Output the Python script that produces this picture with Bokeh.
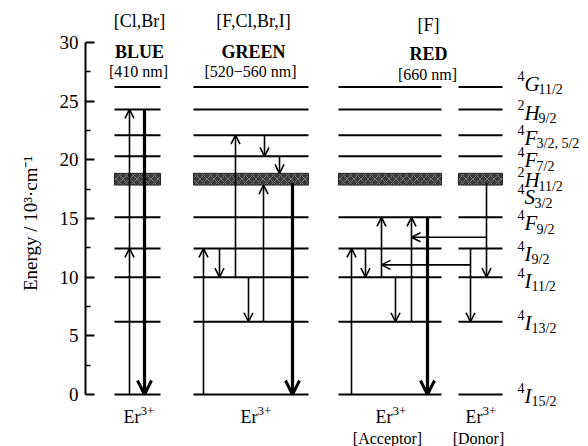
import numpy as np
from bokeh.plotting import figure
from bokeh.models import ColumnDataSource, Arrow, OpenHead, FixedTicker, Range1d
from bokeh.core.properties import value
from bokeh.embed import file_html
from bokeh.resources import INLINE

# ---------------- data ----------------
# energy levels of Er3+ (10^3 cm^-1)
level_sup = ["4", "4", "4", "4", "4", "4", "2", "4", "4", "2", "4"]
level_main = ["I", "I", "I", "I", "F", "S", "H", "F", "F", "H", "G"]
level_sub = ["15/2", "13/2", "11/2", "9/2", "9/2", "3/2", "11/2", "7/2", "3/2, 5/2", "9/2", "11/2"]
level_energy = [0.0, 6.2, 10.0, 12.45, 15.1, 17.85, 18.85, 20.3, 22.1, 24.3, 26.2]
band_low, band_high = 17.85, 18.85   # 4S3/2 + 2H11/2 (shaded)

# columns of the diagram
col_header1 = ["[Cl,Br]", "[F,Cl,Br,I]", "[F]", ""]
col_header2 = ["BLUE", "GREEN", "RED", ""]
col_header3 = ["[410 nm]", "[520\u2212560 nm]", "[660 nm]", ""]
col_foot = ["", "", "[Acceptor]", "[Donor]"]

# vertical transitions: column index, start energy, end energy, thick (emission)
tr_col = [0, 0, 0,
          1, 1, 1, 1, 1, 1, 1, 1,
          2, 2, 2, 2, 2, 2,
          3, 3]
tr_from = [0.0, 12.45, 24.3,
           0.0, 12.45, 10.0, 22.1, 20.3, 10.0, 6.2, 18.0,
           0.0, 12.45, 10.0, 10.0, 6.2, 15.1,
           18.0, 12.45]
tr_to = [12.45, 24.3, 0.0,
         12.45, 10.0, 22.1, 20.3, 18.85, 6.2, 17.85, 0.0,
         12.45, 10.0, 15.1, 6.2, 15.1, 0.0,
         10.0, 6.2]
tr_thick = [0, 0, 1,
            0, 0, 0, 0, 0, 0, 0, 1,
            0, 0, 0, 0, 0, 1,
            0, 0]
# energy transfer donor -> acceptor (horizontal arrows): energy
et_energy = [13.4, 11.05]

y_ticks = [0, 5, 10, 15, 20, 25, 30]
y_minor = [2.5, 7.5, 12.5, 17.5, 22.5, 27.5]

# ---------------- layout (pixels ~ data x) ----------------
col_x0 = [114, 193, 338, 458]
col_x1 = [160, 308, 441, 502]
col_hx = [139, 253, 428, 0]
col_ex = [138, 255, 390, 480]
col_fx = [0, 0, 387, 478]
tr_x = [129, 129, 144,
        203, 219, 235, 264, 279, 248, 263, 292,
        351, 365, 381, 395, 411, 427,
        486, 470]
et_x0 = [486, 470]
et_x1 = [411, 381]
lab_y = [-0.1, 6.1, 9.7, 12.0, 14.6, 16.8, 18.25, 19.95, 21.9, 24.0, 26.5]

PX = 11.733  # px per unit
serif = value("Liberation Serif")

p = figure(width=588, height=446, output_backend="svg", toolbar_location=None,
           x_range=Range1d(85, 588), y_range=Range1d(-52 / PX, 394 / PX),
           x_axis_location=None, min_border_left=85, min_border_right=0,
           min_border_top=0, min_border_bottom=0)
p.outline_line_color = None
p.grid.visible = False
p.background_fill_color = "white"
p.border_fill_color = "white"

ax = p.yaxis[0]
ax.bounds = (0, 30)
ax.ticker = FixedTicker(ticks=y_ticks, minor_ticks=y_minor)
ax.major_tick_in = 9
ax.major_tick_out = 0
ax.minor_tick_in = 5
ax.minor_tick_out = 0
ax.axis_line_width = 2
ax.axis_line_color = "black"
ax.major_tick_line_width = 2
ax.major_tick_line_color = "black"
ax.minor_tick_line_width = 1.5
ax.minor_tick_line_color = "black"
ax.major_label_text_font = "Liberation Serif"
ax.major_label_text_font_size = "19px"
ax.major_label_text_color = "black"
ax.major_label_standoff = 7
ax.axis_label = "Energy / 10\u00b3\u00b7cm\u207b\u00b9"
ax.axis_label_text_font = "Liberation Serif"
ax.axis_label_text_font_style = "normal"
ax.axis_label_text_font_size = "19px"
ax.axis_label_text_color = "black"
ax.axis_label_standoff = 16

# level lines
sx0, sx1, sy = [], [], []
for c in range(4):
    for e in level_energy:
        if band_low <= e <= band_high:
            continue
        sx0.append(col_x0[c]); sx1.append(col_x1[c]); sy.append(e)
p.segment(x0=sx0, x1=sx1, y0=sy, y1=sy, line_color="black", line_width=2)

# shaded band
p.quad(left=col_x0, right=col_x1, bottom=[band_low] * 4, top=[band_high] * 4,
       fill_color="#3c3c3c", line_color="#222222", line_width=1,
       hatch_pattern="x", hatch_color="#9a9a9a", hatch_scale=7, hatch_weight=0.6)

# vertical arrows
thin = dict(x0=[], y0=[], x1=[], y1=[])
thick = dict(x0=[], y0=[], x1=[], y1=[])
for x, a, b, t in zip(tr_x, tr_from, tr_to, tr_thick):
    d = thick if t else thin
    d["x0"].append(x); d["x1"].append(x); d["y0"].append(a); d["y1"].append(b)
for x0, x1, e in zip(et_x0, et_x1, et_energy):
    thin["x0"].append(x0); thin["x1"].append(x1); thin["y0"].append(e); thin["y1"].append(e)

p.add_layout(Arrow(end=OpenHead(size=9, line_width=1.6, line_color="black"),
                   source=ColumnDataSource(thin), x_start="x0", y_start="y0",
                   x_end="x1", y_end="y1", line_width=1.6, line_color="black"))
p.add_layout(Arrow(end=OpenHead(size=14, line_width=3, line_color="black"),
                   source=ColumnDataSource(thick), x_start="x0", y_start="y0",
                   x_end="x1", y_end="y1", line_width=3.2, line_color="black"))

# headers
h1y, h2y, h3y = 31.8, 29.2, 27.5
hx = col_hx[:3]
p.text(x=hx, y=[h1y, h1y, h1y - 0.3], text=col_header1[:3], text_font=serif,
       text_font_size="18px", text_align="center", text_baseline="middle")
p.text(x=hx, y=[h2y, h2y, h2y - 0.15], text=col_header2[:3], text_font=serif,
       text_font_size="18px", text_font_style="bold", text_align="center",
       text_baseline="middle")
p.text(x=[hx[0] - 1, hx[1] - 3, hx[2] - 1], y=[h3y, h3y, h3y - 0.2], text=col_header3[:3],
       text_font=serif, text_font_size="16px", text_align="center", text_baseline="middle")

# Er3+ labels
ey = -1.96
p.text(x=[x + 2 for x in col_ex], y=[ey] * 4, text=["Er"] * 4, text_font=serif,
       text_font_size="18px", text_align="right", text_baseline="middle")
p.text(x=[x + 2 for x in col_ex], y=[ey] * 4, y_offset=-6, text=["3+"] * 4, text_font=serif,
       text_font_size="13px", text_align="left", text_baseline="middle")
p.text(x=col_fx[2:], y=[-3.75] * 2, text=col_foot[2:], text_font=serif,
       text_font_size="16px", text_align="center", text_baseline="middle")

# level labels
wid = {"G": 14, "H": 14, "F": 12, "S": 10, "I": 7}
lx = 517
p.text(x=[lx] * len(lab_y), y=lab_y, y_offset=-8, text=level_sup, text_font=serif,
       text_font_size="14px", text_align="left", text_baseline="middle")
p.text(x=[lx + 7] * len(lab_y), y=lab_y, text=level_main, text_font=serif,
       text_font_size="21px", text_font_style="italic", text_align="left",
       text_baseline="middle")
p.text(x=[lx + 7 + wid[m] for m in level_main], y=lab_y, y_offset=6, text=level_sub,
       text_font=serif, text_font_size="14px", text_align="left", text_baseline="middle")

open("out.html", "w").write(file_html(p, INLINE))
